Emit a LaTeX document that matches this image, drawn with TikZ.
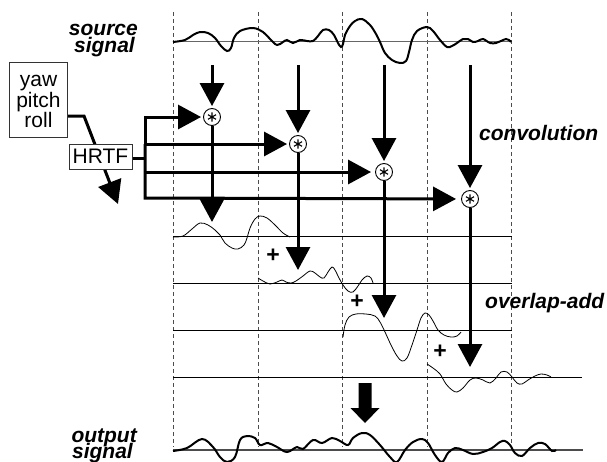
\documentclass[tikz,border=0pt]{standalone}
\usepackage{fontspec}
\setmainfont{Liberation Sans}
\usetikzlibrary{arrows.meta,calc}
\begin{document}
\begin{tikzpicture}[x=1pt,y=-1pt,
  dashv/.style={draw=black!70, line width=0.8pt, dash pattern=on 4pt off 3pt},
  baseln/.style={draw=black, line width=0.8pt},
  thinwave/.style={draw=black, line width=0.8pt},
  thickwave/.style={draw=black, line width=2pt},
  thk/.style={line width=3pt, line join=miter},
  thkarrow/.style={thk, -{Triangle[length=23pt,width=24pt]}},
  lbl/.style={font=\fontsize{21}{21}\selectfont\bfseries\itshape, inner sep=0},
  txt/.style={font=\fontsize{21}{21}\selectfont, inner sep=0},
  plus/.style={font=\fontsize{23}{23}\selectfont\bfseries, inner sep=0},
  conv/.style={circle, draw, fill=white, line width=0.9pt, minimum size=17pt, inner sep=0,
    path picture={\draw[line width=1.1pt] foreach \a in {90,30,150} {($(path picture bounding box.center)+(\a:4.6pt)$) -- ($(path picture bounding box.center)+(\a+180:4.6pt)$)};}},
  boxed/.style={draw=black!80, line width=1pt, fill=white}
]
\useasboundingbox (0,0) rectangle (607,461);

% dashed time grid
\foreach \x in {173,258,342,427,511} \draw[dashv] (\x,12) -- (\x,447);

% baselines
\draw[draw=black!60, line width=1pt] (173,41) -- (511,41);
\draw[baseln] (173,236) -- (512,236);
\draw[baseln] (173,283) -- (512,283);
\draw[baseln] (173,330) -- (512,330);
\draw[baseln] (173,377) -- (582,377);
\draw[draw=black!70, line width=1.6pt] (173,450) -- (583,450);

% source signal wave
\draw[thickwave] plot[smooth, tension=0.6] coordinates {(173,42) (185,40) (193,35) (200,32) (208,33) (215,38) (221,46) (227,51) (231,48) (234,38) (240,31) (253,28) (263,32) (270,39) (277,45) (283,42) (287,40) (293,43) (300,40) (307,41) (313,41) (318,36) (323,30) (329,30) (334,35) (338,43) (341,47) (343,44) (345,35) (350,26) (355,21) (362,19) (370,25) (376,34) (380,42) (385,53) (392,60) (400,63) (406,61) (409,52) (412,40) (417,31) (427,27) (433,31) (440,40) (447,47) (452,46) (457,43) (463,39) (468,39) (473,42) (478,41) (483,39) (490,43) (496,43) (501,41) (506,39) (509,40) (511,42)};

% segment waves
\draw[thinwave] plot[smooth, tension=0.6] coordinates {(173,237) (183,236) (192,229) (200,223) (208,225) (215,230) (220,235) (225,243) (232,248) (238,249) (244,245) (247,238) (250,228) (255,219) (260,216) (267,218) (275,225) (283,233) (290,237)};
\draw[thinwave] plot[smooth, tension=0.6] coordinates {(258,278) (263,281) (270,284) (277,282) (282,280) (286,282) (291,283) (296,281) (303,276) (310,271) (315,273) (320,277) (324,278) (328,272) (332,267) (335,270) (339,278) (343,285) (348,291) (353,292) (358,286) (362,280) (367,276) (371,278) (373,283)};
\draw[thinwave] plot[smooth, tension=0.6] coordinates {(343,337) (345,325) (349,317) (356,314) (366,314) (375,316) (380,322) (385,332) (391,345) (397,356) (402,361) (407,358) (412,345) (417,330) (421,318) (425,313) (429,315) (433,321) (438,330) (444,335) (451,337) (457,336) (461,332)};
\draw[thinwave] plot[smooth, tension=0.6] coordinates {(427,364) (433,368) (440,374) (446,384) (452,390) (457,392) (463,388) (470,380) (476,378) (483,380) (490,383) (496,378) (501,372) (507,372) (512,377) (517,383) (522,384) (528,380) (535,376) (541,374) (547,375) (551,377)};

% output wave
\draw[thickwave] plot[smooth, tension=0.6] coordinates {(173,451) (187,448) (202,439) (213,447) (220,457) (227,462) (235,457) (240,440) (247,436) (255,438) (260,445) (268,443) (277,447) (287,452) (297,447) (303,449) (313,440) (322,443) (332,438) (340,441) (348,445) (353,438) (362,433) (370,435) (380,445) (390,457) (397,462) (405,450) (413,442) (422,439) (428,443) (435,455) (442,462) (448,453) (455,448) (463,450) (473,454) (483,452) (492,448) (500,442) (505,441) (510,445) (515,453) (522,456) (530,448) (538,443) (545,444) (552,451) (556,450)};

% labels
\node[lbl, anchor=base east] (src1) at (138,35) {source};
\node[lbl, anchor=base east] (src2) at (135,52) {signal};
\node[lbl, anchor=base west] (convlbl) at (479,140) {convolution};
\node[lbl, anchor=base west] (olalbl) at (485,308) {overlap-add};
\node[lbl, anchor=base east] (out1) at (137,442) {output};
\node[lbl, anchor=base east] (out2) at (133,458) {signal};

% yaw pitch roll -> HRTF
\node[boxed, minimum width=58pt, minimum height=75pt] (ypr) at (38.5,99.5) {};
\node[txt, anchor=base] (yaw) at (38.5,86.5) {yaw};
\node[txt, anchor=base] (pitch) at (38.5,107) {pitch};
\node[txt, anchor=base] (roll) at (38.5,127.5) {roll};
\coordinate (bend) at (84,116);
\coordinate (ytip) at (118,204);
\draw[thkarrow] (ypr.east |- bend) -- (bend) -- (ytip);
\node[boxed, txt, minimum width=63pt, minimum height=25pt] (hrtf) at (100.5,156.5) {HRTF};

% circles
\node[conv] (c1) at (212,117) {};
\node[conv] (c2) at (298,144) {};
\node[conv] (c3) at (384,172) {};
\node[conv] (c4) at (470,199) {};

% bus
\coordinate (b0) at (145,158);
\coordinate (b1) at (145,117);
\coordinate (b2) at (145,144);
\coordinate (b3) at (145,172);
\coordinate (b4) at (145,198);
\draw[thk] (hrtf.east |- b0) -- (b0);
\draw[thkarrow, shorten >=2pt] (b2) -- (b1) -- (c1);
\draw[thkarrow, shorten >=2pt] (b2) -- (c2);
\draw[thkarrow, shorten >=4pt] (b3) -- (c3);
\draw[thkarrow, shorten >=5pt] (b2) -- (b3) -- (b4) -- (c4);

% source arrows
\foreach \i/\x in {1/212,2/298,3/384,4/470} {
  \coordinate (s\i) at (\x,65);
  \draw[thkarrow, shorten >=2pt] (s\i) -- (c\i);
}
% down arrows
\coordinate (d1) at (212,222);
\coordinate (d2) at (298,270);
\coordinate (d3) at (384,318);
\coordinate (d4) at (470,367);
\foreach \i in {1,2,3,4} \draw[thkarrow] (c\i) -- (d\i);

% plus signs
\node[plus] (p2) at (273,256) {+};
\node[plus] (p3) at (357,302) {+};
\node[plus] (p4) at (440,352) {+};

% block arrow
\fill (358.5,383) -- (371.5,383) -- (371.5,408) -- (379.5,408) -- (365,423) -- (350.5,408) -- (358.5,408) -- cycle;
\end{tikzpicture}
\end{document}
